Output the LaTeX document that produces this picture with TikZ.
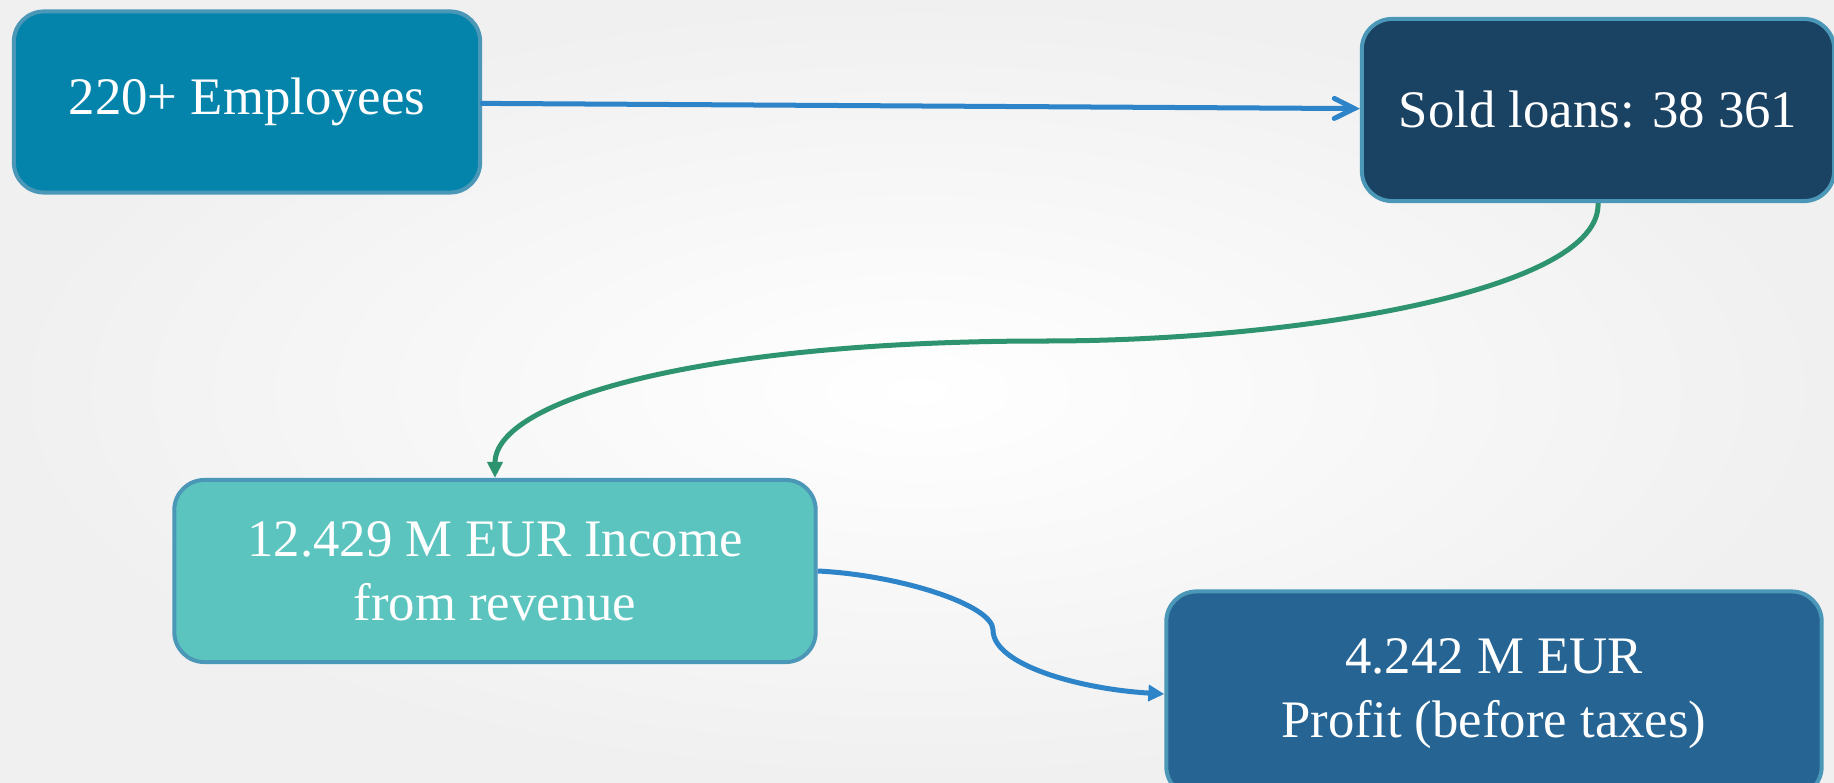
\documentclass[tikz,border=0pt]{standalone}
\usepackage{fontspec}
\setmainfont{Liberation Serif}
\usetikzlibrary{arrows.meta}

\definecolor{bggray}{RGB}{240,240,240}
\definecolor{boxline}{RGB}{75,151,183}
\definecolor{empcol}{RGB}{4,131,171}
\definecolor{loancol}{RGB}{26,66,99}
\definecolor{inccol}{RGB}{91,196,191}
\definecolor{profcol}{RGB}{37,100,147}
\definecolor{arrowblue}{RGB}{46,132,200}
\definecolor{arrowgreen}{RGB}{46,148,112}

\gdef\empfill{empcol}
\gdef\loanfill{loancol}
\gdef\incfill{inccol}
\gdef\proffill{profcol}

\tikzset{box/.style={draw=boxline, line width=0.4mm, rounded corners=0.3cm, text=white, align=center, font=\fontsize{15}{18.2}\selectfont}}

\begin{document}
\begin{tikzpicture}[x=0.01cm, y=-0.01cm, line width=0.5mm]

\shade[inner color=white, outer color=bggray] (0,0) rectangle (1834,782);
\useasboundingbox (0,0) rectangle (1834,782);

\node[box, fill=\empfill, minimum width=4.66cm, minimum height=1.81cm] (emp) at (247,102) {220+ Employees};
\node[box, fill=\loanfill, minimum width=4.72cm, minimum height=1.82cm] (loans) at (1598,110) {Sold loans: 38 361};
\node[box, fill=\incfill, minimum width=6.41cm, minimum height=1.82cm] (income) at (495,571) {12.429 M EUR Income\\from revenue};
\node[box, fill=\proffill, minimum width=6.55cm, minimum height=2.05cm] (profit) at (1494,694) {4.242 M EUR\\Profit (before taxes)};

\coordinate (gmid) at (1045,341);
\coordinate (bmid) at (993,630);

\path[draw=arrowblue, line cap=round, -{Straight Barb[length=2mm, width=2mm, line cap=round]}]
	(emp) edge (loans);

\draw[arrowgreen, -{Triangle[length=1.6mm, width=1.5mm]}]
	(loans.south) .. controls (1602,290) and (1300,341) .. (gmid)
	.. controls (700,341) and (495,400) .. (income.north);

\draw[arrowblue, -{Triangle[length=1.6mm, width=1.6mm]}]
	(income.east) .. controls (900,575) and (993,605) .. (bmid)
	.. controls (993,665) and (1080,689) .. (profit.west);

\end{tikzpicture}
\end{document}
